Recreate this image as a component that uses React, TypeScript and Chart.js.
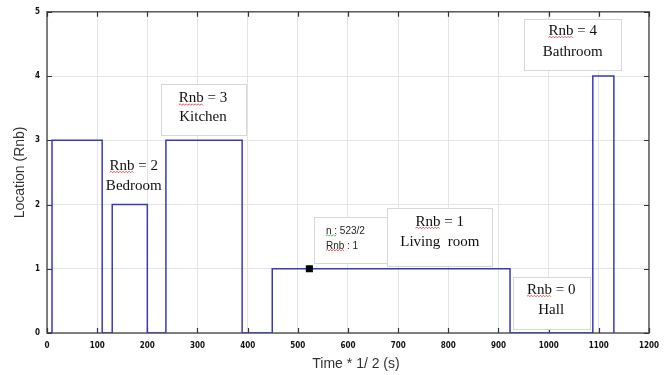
import React, { useEffect, useRef } from "react";
import { Chart, registerables } from "chart.js";

Chart.register(...registerables);

// Step signal: time at which the location changes, and new location value
const changeTimes = [0, 10, 110, 130, 200, 237, 389, 449, 923, 1088, 1130];
const locations = [0, 3, 0, 2, 0, 3, 0, 1, 0, 4, 0];

// Data tip marker
const tipX = [523];
const tipY = [1];

const xTicks = [0, 100, 200, 300, 400, 500, 600, 700, 800, 900, 1000, 1100, 1200];
const yTicks = [0, 1, 2, 3, 4, 5];

type Ann = {
  box: [number, number, number, number] | null; // x0, x1, y0, y1 in data units
  cx: number;
  align: "center" | "left";
  lines: { text: string; y: number }[];
  serif: boolean;
};

const annotations: Ann[] = [
  { box: [227, 397, 3.07, 3.87], cx: 311, align: "center", serif: true, lines: [{ text: "Rnb = 3", y: 3.65 }, { text: "Kitchen", y: 3.36 }] },
  { box: null, cx: 173, align: "center", serif: true, lines: [{ text: "Rnb = 2", y: 2.6 }, { text: "Bedroom", y: 2.29 }] },
  { box: [532, 678, 1.08, 1.8], cx: 556, align: "left", serif: false, lines: [{ text: "n : 523/2", y: 1.58 }, { text: "Rnb : 1", y: 1.35 }] },
  { box: [678, 887, 1.05, 1.95], cx: 783, align: "center", serif: true, lines: [{ text: "Rnb = 1", y: 1.73 }, { text: "Living  room", y: 1.41 }] },
  { box: [929, 1082, 0.06, 0.87], cx: 1005, align: "center", serif: true, lines: [{ text: "Rnb = 0", y: 0.67 }, { text: "Hall", y: 0.36 }] },
  { box: [951, 1144, 4.1, 4.89], cx: 1048, align: "center", serif: true, lines: [{ text: "Rnb = 4", y: 4.7 }, { text: "Bathroom", y: 4.38 }] },
];

function squiggle(ctx: CanvasRenderingContext2D, x0: number, x1: number, y: number, color: string) {
  ctx.save();
  ctx.strokeStyle = color;
  ctx.lineWidth = 0.8;
  ctx.beginPath();
  let up = true;
  ctx.moveTo(x0, y);
  for (let x = x0 + 1.5; x <= x1; x += 1.5) {
    ctx.lineTo(x, up ? y - 1 : y + 0.5);
    up = !up;
  }
  ctx.stroke();
  ctx.restore();
}

const framePlugin = {
  id: "frame",
  beforeDatasetsDraw(chart: any) {
    const { ctx, chartArea: a } = chart;
    const xs = chart.scales.x;
    const ys = chart.scales.y;
    ctx.save();
    ctx.strokeStyle = "#5a5a5a";
    ctx.lineWidth = 1.5;
    ctx.strokeRect(a.left, a.top, a.right - a.left, a.bottom - a.top);
    ctx.lineWidth = 1.2;
    ctx.strokeStyle = "#333";
    ctx.beginPath();
    xTicks.forEach((t) => {
      const px = Math.round(xs.getPixelForValue(t)) + 0.5;
      ctx.moveTo(px, a.bottom);
      ctx.lineTo(px, a.bottom - 5);
      ctx.moveTo(px, a.top);
      ctx.lineTo(px, a.top + 5);
    });
    yTicks.forEach((t) => {
      const py = Math.round(ys.getPixelForValue(t)) + 0.5;
      ctx.moveTo(a.left, py);
      ctx.lineTo(a.left + 5, py);
      ctx.moveTo(a.right, py);
      ctx.lineTo(a.right - 5, py);
    });
    ctx.stroke();
    ctx.restore();
  },
  afterDatasetsDraw(chart: any) {
    const { ctx } = chart;
    const xs = chart.scales.x;
    const ys = chart.scales.y;
    ctx.save();
    annotations.forEach((an) => {
      if (an.box) {
        const x0 = xs.getPixelForValue(an.box[0]);
        const x1 = xs.getPixelForValue(an.box[1]);
        const y0 = ys.getPixelForValue(an.box[2]);
        const y1 = ys.getPixelForValue(an.box[3]);
        ctx.fillStyle = "#ffffff";
        ctx.fillRect(x0, y1, x1 - x0, y0 - y1);
        ctx.strokeStyle = "#d8d8d8";
        ctx.lineWidth = 1;
        ctx.strokeRect(Math.round(x0) + 0.5, Math.round(y1) + 0.5, Math.round(x1 - x0), Math.round(y0 - y1));
      }
      const fontSize = an.serif ? 15 : 10;
      ctx.font = an.serif
        ? `${fontSize}px "Liberation Serif", "Times New Roman", serif`
        : `${fontSize}px "Liberation Sans", Arial, sans-serif`;
      ctx.fillStyle = an.serif ? "#111" : "#222";
      ctx.textBaseline = "middle";
      ctx.textAlign = "left";
      const cx = xs.getPixelForValue(an.cx);
      an.lines.forEach((ln) => {
        const w = ctx.measureText(ln.text).width;
        const sx = an.align === "center" ? cx - w / 2 : cx;
        const py = ys.getPixelForValue(ln.y);
        ctx.fillText(ln.text, sx, py);
        const uy = py + fontSize * 0.42;
        if (ln.text.startsWith("Rnb")) {
          const rw = ctx.measureText("Rnb").width;
          squiggle(ctx, sx, sx + rw, uy, "#e03030");
        } else if (ln.text.startsWith("n :")) {
          const nw = ctx.measureText("n :").width;
          squiggle(ctx, sx, sx + nw, uy, "#40a040");
        }
      });
    });
    // axis titles
    const a = chart.chartArea;
    ctx.fillStyle = "#333";
    ctx.font = '14px "Liberation Sans", Arial, sans-serif';
    ctx.textAlign = "center";
    ctx.textBaseline = "middle";
    ctx.fillText("Time * 1/ 2 (s)", 356, 364);
    ctx.save();
    ctx.translate(20, (a.top + a.bottom) / 2);
    ctx.rotate(-Math.PI / 2);
    ctx.fillText("Location (Rnb)", 0, 0);
    ctx.restore();
    ctx.restore();
  },
};

export default function App() {
  const ref = useRef<HTMLCanvasElement>(null);
  useEffect(() => {
    if (!ref.current) return;
    const stepData = changeTimes.map((t, i) => ({ x: t, y: locations[i] }));
    const tipData = tipX.map((t, i) => ({ x: t, y: tipY[i] }));
    const tickFont = { family: '"DejaVu Sans Condensed", "Liberation Sans", sans-serif', size: 8, weight: "bold" as const };
    const chart = new Chart(ref.current, {
      type: "line",
      data: {
        datasets: [
          {
            data: stepData,
            stepped: true,
            borderColor: "#3a3ab8",
            borderWidth: 1.5,
            pointRadius: 0,
            fill: false,
            order: 2,
          },
          {
            data: tipData,
            showLine: false,
            pointStyle: "rect",
            pointRadius: 5,
            backgroundColor: "#000",
            borderColor: "#000",
            borderWidth: 0,
            order: 1,
          },
        ],
      },
      options: {
        responsive: false,
        animation: false,
        layout: { padding: { top: 10, right: 18, left: 0, bottom: 0 } },
        plugins: { legend: { display: false }, tooltip: { enabled: false } },
        scales: {
          x: {
            type: "linear",
            min: 0,
            max: 1200,
            afterBuildTicks: (s: any) => {
              s.ticks = xTicks.map((v) => ({ value: v }));
            },
            afterFit: (s: any) => {
              s.height = 42;
            },
            ticks: {
              font: tickFont,
              color: "#111",
              padding: 8,
              maxRotation: 0,
              autoSkip: false,
              callback: (v: any) => String(v),
            },
            grid: { color: "#e4e4e4", drawTicks: false, lineWidth: 1 },
            border: { display: false },
          },
          y: {
            type: "linear",
            min: 0,
            max: 5,
            afterBuildTicks: (s: any) => {
              s.ticks = yTicks.map((v) => ({ value: v }));
            },
            afterFit: (s: any) => {
              s.width = 47;
            },
            ticks: { font: tickFont, color: "#111", padding: 7, callback: (v: any) => String(v) },
            grid: { color: "#e4e4e4", drawTicks: false, lineWidth: 1 },
            border: { display: false },
          },
        },
      },
      plugins: [framePlugin],
    });
    return () => chart.destroy();
  }, []);
  return (
    <div style={{ position: "fixed", left: 0, top: 0, width: 667, height: 375, background: "#fff" }}>
      <canvas ref={ref} width={667} height={375} />
    </div>
  );
}
